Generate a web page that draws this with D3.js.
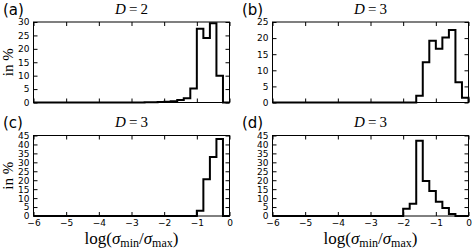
<!DOCTYPE html>
<html>
<head>
<meta charset="utf-8">
<script src="https://cdn.jsdelivr.net/npm/d3@7/dist/d3.min.js"></script>
<style>
  body { margin: 0; background: #fff; }
</style>
</head>
<body>
<div id="chart"></div>
<script>
//Histogram data (percent per bin), bins are 0.2 wide on the log axis
var binWidth = 0.2;

var binStartA = -2.6;
var pctA = [0.05, 0.1, 0.15, 0.25, 0.45, 0.9, 1.6, 5.2, 27.5, 24, 29.5, 10];

var binStartB = -1.6;
var pctB = [2.1, 12.5, 19.2, 16.7, 20.2, 22.5, 6.3, 1.5];

var binStartC = -1.0;
var pctC = [3, 20.5, 33, 43];

var binStartD = -2.0;
var pctD = [4, 6.8, 42, 19.5, 14, 8, 4.5, 1.1];

//Tick values and labels
var xTicks = [-6, -5, -4, -3, -2, -1, 0];
var yTicksA = [0, 5, 10, 15, 20, 25, 30];
var yTicksB = [0, 5, 10, 15, 20, 25];
var yTicksCD = [0, 5, 10, 15, 20, 25, 30, 35, 40, 45];

var panelLetters = ["(a)", "(b)", "(c)", "(d)"];
var panelDims = ["2", "3", "3", "3"];

//Canvas
var svgWidth = 474;
var svgHeight = 250;

var svg = d3.select("#chart")
    .append("svg")
    .attr("width", svgWidth)
    .attr("height", svgHeight);

//Panel layout
var colLeft = [33.5, 272.5];
var rowTop = [22, 135.5];
var plotWidth = 196;
var plotHeight = 80.5;

var panels = [
  { start: binStartA, pct: pctA, yTicks: yTicksA, col: 0, row: 0 },
  { start: binStartB, pct: pctB, yTicks: yTicksB, col: 1, row: 0 },
  { start: binStartC, pct: pctC, yTicks: yTicksCD, col: 0, row: 1 },
  { start: binStartD, pct: pctD, yTicks: yTicksCD, col: 1, row: 1 }
];

var tickFont = "DejaVu Sans";
var mathFont = "Liberation Serif";
var intFormat = d3.format("d");

panels.forEach(function(p, i) {
  var left = colLeft[p.col];
  var top = rowTop[p.row];

  var x = d3.scaleLinear()
      .domain([-6, 0])
      .range([left, left + plotWidth]);

  var y = d3.scaleLinear()
      .domain([0, d3.max(p.yTicks)])
      .range([top + plotHeight, top]);

  var g = svg.append("g");

  //Inward ticks on all four sides
  var bottomAxis = d3.axisBottom(x).tickValues(xTicks).tickSize(-4).tickSizeOuter(0).tickPadding(4)
      .tickFormat(p.row === 0 ? "" : intFormat);
  var topAxis = d3.axisTop(x).tickValues(xTicks).tickSize(-4).tickSizeOuter(0).tickFormat("");
  var leftAxis = d3.axisLeft(y).tickValues(p.yTicks).tickSize(-4).tickSizeOuter(0).tickPadding(4)
      .tickFormat(intFormat);
  var rightAxis = d3.axisRight(y).tickValues(p.yTicks).tickSize(-4).tickSizeOuter(0).tickFormat("");

  var axes = [
    g.append("g").attr("transform", `translate(0,${top + plotHeight})`).call(bottomAxis),
    g.append("g").attr("transform", `translate(0,${top})`).call(topAxis),
    g.append("g").attr("transform", `translate(${left},0)`).call(leftAxis),
    g.append("g").attr("transform", `translate(${left + plotWidth},0)`).call(rightAxis)
  ];

  axes.forEach(function(a) {
    a.select(".domain").remove();
    a.attr("font-family", tickFont).attr("font-size", 9);
    a.selectAll("line").attr("stroke", "#000").attr("stroke-width", 1);
    a.selectAll("text").attr("fill", "#000");
  });

  //Frame
  g.append("rect")
      .attr("x", left)
      .attr("y", top)
      .attr("width", plotWidth)
      .attr("height", plotHeight)
      .attr("fill", "none")
      .attr("stroke", "#000")
      .attr("stroke-width", 1);

  //Step outline of the histogram
  var pts = [[-6, 0], [p.start, 0]];
  p.pct.forEach(function(v, k) {
    pts.push([p.start + k * binWidth, v]);
    pts.push([p.start + (k + 1) * binWidth, v]);
  });
  var end = p.start + p.pct.length * binWidth;
  pts.push([end, 0]);
  pts.push([0, 0]);

  var line = d3.line()
      .x(function(d) { return x(d[0]); })
      .y(function(d) { return y(d[1]); });

  g.append("path")
      .datum(pts)
      .attr("d", line)
      .attr("fill", "none")
      .attr("stroke", "#000")
      .attr("stroke-width", 2)
      .attr("stroke-linejoin", "miter");

  //Panel letter
  g.append("text")
      .attr("x", left - 30.5)
      .attr("y", top - 7.5)
      .attr("font-family", tickFont)
      .attr("font-size", 15)
      .text(panelLetters[i]);

  //Title D = n
  var title = g.append("text")
      .attr("x", left + plotWidth / 2)
      .attr("y", top - 8.5)
      .attr("text-anchor", "middle")
      .attr("font-family", mathFont)
      .attr("font-size", 15);
  title.append("tspan").attr("font-style", "italic").text("D");
  title.append("tspan").text("\u2009=\u2009" + panelDims[i]);

  //y label on left panels
  if (p.col === 0) {
    g.append("text")
        .attr("transform", `translate(13,${top + plotHeight / 2}) rotate(-90)`)
        .attr("text-anchor", "middle")
        .attr("font-family", mathFont)
        .attr("font-size", 15)
        .text("in %");
  }

  //x label on bottom panels
  if (p.row === 1) {
    var xl = g.append("text")
        .attr("x", left + plotWidth / 2)
        .attr("y", top + plotHeight + 28)
        .attr("text-anchor", "middle")
        .attr("font-family", mathFont)
        .attr("font-size", 17);
    xl.append("tspan").text("log(");
    xl.append("tspan").attr("font-style", "italic").text("\u03c3");
    xl.append("tspan").attr("font-size", 12).attr("dy", 3).text("min");
    xl.append("tspan").attr("dy", -3).text("/");
    xl.append("tspan").attr("font-style", "italic").text("\u03c3");
    xl.append("tspan").attr("font-size", 12).attr("dy", 3).text("max");
    xl.append("tspan").attr("dy", -3).text(")");
  }
});
</script>
</body>
</html>
